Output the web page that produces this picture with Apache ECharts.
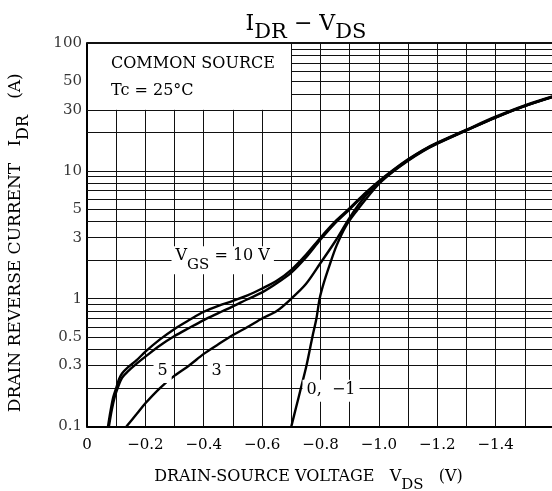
<!DOCTYPE html>
<html>
<head>
<meta charset="utf-8">
<script src="https://cdn.jsdelivr.net/npm/echarts@6/dist/echarts.min.js"></script>
<style>
  html, body { margin: 0; padding: 0; background: #fff; }
  #chart { width: 552px; height: 491px; }
</style>
</head>
<body>
<div id="chart"></div>
<script>
var FONT = '"DejaVu Serif", serif';

// curves: [VDS (V), IDR (A)]
var vgs10 = [[-0.072,0.1],[-0.08,0.13],[-0.09,0.17],[-0.1,0.2],[-0.11,0.235],[-0.12,0.26],[-0.14,0.29],[-0.17,0.33],[-0.2,0.385],[-0.25,0.48],[-0.3,0.58],[-0.35,0.68],[-0.4,0.79],[-0.45,0.88],[-0.5,0.96],[-0.55,1.06],[-0.6,1.2],[-0.65,1.38],[-0.7,1.68],[-0.75,2.2],[-0.8,3.0],[-0.85,4.0],[-0.9,5.1],[-0.95,6.6],[-1.0,8.3],[-1.05,10.2],[-1.1,12.3],[-1.15,14.5],[-1.2,16.6],[-1.3,21],[-1.4,26.5],[-1.5,32.5],[-1.6,38.5]];
var vgs5 = [[-0.075,0.1],[-0.085,0.135],[-0.095,0.17],[-0.105,0.2],[-0.12,0.24],[-0.14,0.27],[-0.17,0.31],[-0.2,0.352],[-0.25,0.43],[-0.3,0.51],[-0.35,0.59],[-0.4,0.68],[-0.45,0.77],[-0.5,0.87],[-0.55,0.99],[-0.6,1.12],[-0.65,1.32],[-0.7,1.6],[-0.75,2.1],[-0.8,2.9],[-0.85,3.9],[-0.9,5.0],[-0.95,6.5],[-1.0,8.2],[-1.05,10.1],[-1.1,12.2],[-1.15,14.4],[-1.2,16.5],[-1.3,20.8],[-1.4,26.2],[-1.5,32.2],[-1.6,38.2]];
var vgs3 = [[-0.135,0.1],[-0.17,0.125],[-0.2,0.152],[-0.25,0.2],[-0.3,0.25],[-0.35,0.3],[-0.4,0.37],[-0.45,0.44],[-0.5,0.52],[-0.55,0.6],[-0.6,0.7],[-0.65,0.8],[-0.7,1.0],[-0.75,1.3],[-0.8,1.9],[-0.85,2.8],[-0.9,4.3],[-0.95,6.2],[-1.0,8.1],[-1.05,10.0],[-1.1,12.1],[-1.15,14.3],[-1.2,16.4],[-1.3,20.8],[-1.4,26.2],[-1.5,32.2],[-1.6,38.2]];
var vgs0 = [[-0.7,0.1],[-0.716,0.14],[-0.733,0.2],[-0.752,0.3],[-0.772,0.5],[-0.786,0.7],[-0.797,1.0],[-0.81,1.3],[-0.83,1.8],[-0.855,2.6],[-0.887,3.7],[-0.925,4.9],[-0.963,6.3],[-1.0,7.9],[-1.05,9.9],[-1.1,12.0],[-1.15,14.2],[-1.2,16.3],[-1.3,20.7],[-1.4,26.1],[-1.5,32.1],[-1.6,38.1]];

// axis ticks and grid
var yLabels = [0.1, 0.3, 0.5, 1, 3, 5, 10, 30, 50, 100];
var hFull = [0.2,0.3,0.4,0.5,0.6,0.7,0.8,0.9,1,2,3,4,5,6,7,8,9,10,20,30];
var hShort = [40,50,60,70,80,90];
var vShort = [-0.1,-0.2,-0.3,-0.4,-0.5,-0.6];
var vFull = [-0.7,-0.8,-0.9,-1.0,-1.1,-1.2,-1.3,-1.4,-1.5];

// curve notes
var notes = [
  {value: [-0.465, 2], text: '{m|V}{s|GS}{m| = 10 V}'},
  {value: [-0.259, 0.267], text: '{m|5}'},
  {value: [-0.444, 0.267], text: '{m|3}'},
  {value: [-0.836, 0.19], text: '{m|0,  −1}'}
];

var gridLines = [];
hFull.forEach(function (y) { gridLines.push([{coord: [0, y]}, {coord: [-1.6, y]}]); });
hShort.forEach(function (y) { gridLines.push([{coord: [-0.7, y]}, {coord: [-1.6, y]}]); });
vShort.forEach(function (x) { gridLines.push([{coord: [x, 0.1]}, {coord: [x, 30]}]); });
vFull.forEach(function (x) { gridLines.push([{coord: [x, 0.1]}, {coord: [x, 100]}]); });
gridLines.push([{coord: [0, 100], lineStyle: {width: 2}}, {coord: [-1.6, 100]}]);

function subRich(size) {
  return {
    m: {fontFamily: FONT, fontSize: size, fontWeight: 'normal', color: '#000',
        textBorderWidth: 0, textBorderColor: 'transparent', verticalAlign: 'top', lineHeight: size + 2},
    s: {fontFamily: FONT, fontSize: size - 1, fontWeight: 'normal', color: '#000',
        textBorderWidth: 0, textBorderColor: 'transparent', verticalAlign: 'bottom', lineHeight: size + 8}
  };
}

function curve(name, data) {
  return {
    name: name, type: 'line', data: data, smooth: 0.3, symbol: 'none',
    lineStyle: {color: '#000', width: 2.4}, z: 5, silent: true
  };
}

var chart = echarts.init(document.getElementById('chart'));
var series = [
  {
    name: 'grid', type: 'line', data: [], silent: true, z: 2,
    markLine: {
      silent: true, symbol: ['none', 'none'], animation: false,
      label: {show: false},
      lineStyle: {color: '#111', width: 1, type: 'solid'},
      emphasis: {disabled: true},
      data: gridLines
    }
  },
  curve('VGS = 10 V', vgs10),
  curve('VGS = 5 V', vgs5),
  curve('VGS = 3 V', vgs3),
  curve('VGS = 0, -1 V', vgs0),
  {
    name: 'yLabels', type: 'scatter', symbolSize: 0, clip: false, silent: true,
    data: yLabels.map(function (v) { return [0, v]; }),
    label: {
      show: true, position: 'left', distance: 5, color: '#000',
      fontFamily: FONT, fontSize: 15,
      formatter: function (p) { return String(p.value[1]); }
    }
  },
  {
    name: 'notes', type: 'scatter', symbolSize: 1, silent: true, z: 8,
    itemStyle: {color: '#fff', opacity: 1},
    emphasis: {disabled: true},
    data: notes.map(function (n) {
      return {value: n.value, label: {formatter: n.text}};
    }),
    label: {
      show: true, position: 'inside', color: '#000', opacity: 1,
      textBorderWidth: 0, textBorderColor: 'transparent',
      backgroundColor: '#fff', padding: [2, 4],
      rich: subRich(16)
    }
  }
];

var option = {
  animation: false,
  title: {
    text: '{m|I}{s|DR}{m| − V}{s|DS}',
    left: 301, top: 8, textAlign: 'center',
    textStyle: {fontWeight: 'normal', rich: subRich(22)}
  },
  grid: {left: 87, right: -2, top: 43, bottom: 64.5, outerBoundsMode: 'none', containLabel: false},
  xAxis: {
    type: 'value', min: -1.6, max: 0, interval: 0.1, inverse: true,
    splitLine: {show: false}, axisTick: {show: false},
    axisLine: {show: true, onZero: false, lineStyle: {color: '#000', width: 2}},
    axisLabel: {
      margin: 11, color: '#000', fontFamily: FONT, fontSize: 15,
      formatter: function (v) {
        var t = Math.round(Math.abs(v) * 10);
        if (t % 2 !== 0 || t > 14) return '';
        if (t === 0) return '0';
        return '−' + (t / 10).toFixed(1);
      }
    },
    name: '{m|DRAIN-SOURCE VOLTAGE   V}{s|DS}{m|   (V)}',
    nameLocation: 'middle', nameGap: 42,
    nameTextStyle: {padding: [0, 24, 0, 0], rich: subRich(16)}
  },
  yAxis: {
    type: 'log', logBase: 10, min: 0.1, max: 100,
    splitLine: {show: false}, axisTick: {show: false}, axisLabel: {show: false},
    minorTick: {show: false}, minorSplitLine: {show: false},
    axisLine: {show: true, lineStyle: {color: '#000', width: 2}},
    name: '{m|DRAIN REVERSE CURRENT   I}{s|DR}{m|   (A)}',
    nameLocation: 'middle', nameGap: 55, nameRotate: 90,
    nameTextStyle: {padding: [0, 16, 0, 0], rich: subRich(17)}
  },
  graphic: [{
    type: 'text', left: 111, top: 50,
    style: {
      text: 'COMMON SOURCE\nTc = 25°C', font: '16px ' + FONT,
      fill: '#000', lineHeight: 27
    }
  }],
  series: series
};
chart.setOption(option);
</script>
</body>
</html>
